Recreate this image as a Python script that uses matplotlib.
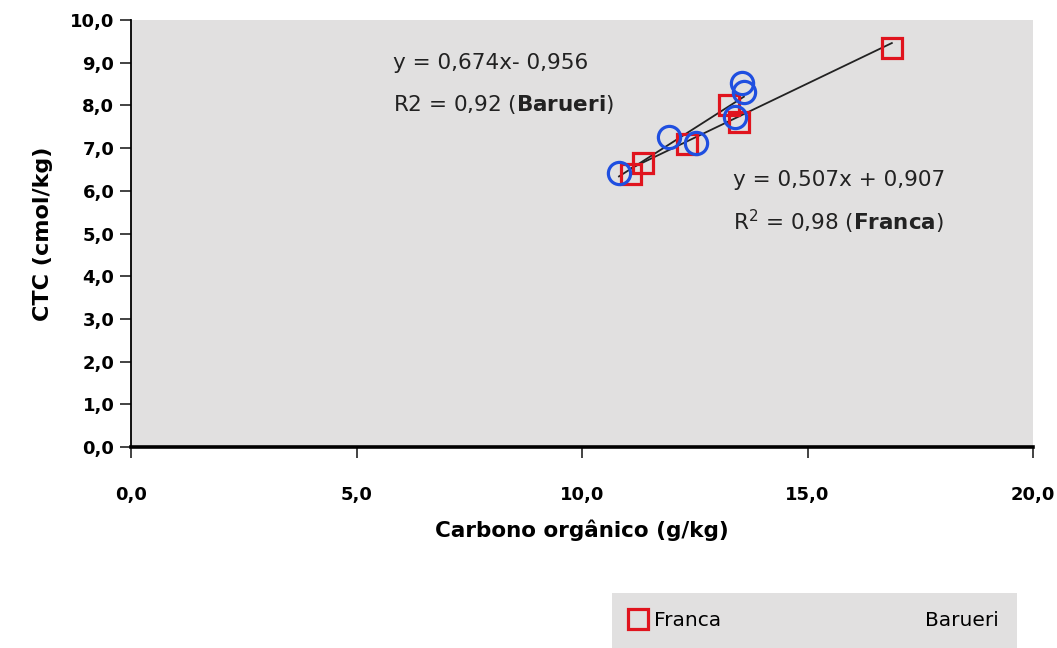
import matplotlib
matplotlib.use("Agg")
import matplotlib.pyplot as plt
import numpy as np
from matplotlib.lines import Line2D
from matplotlib.ticker import FuncFormatter

plt.rcParams['font.family'] = ['DejaVu Sans']
plt.rcParams['mathtext.fontset'] = 'dejavusans'

# Organic carbon (g/kg) vs CEC (cmol/kg) for two soils
franca_x = [16.87, 13.26, 13.48, 12.33, 11.35, 11.09]
franca_y = [9.34, 8.01, 7.61, 7.10, 6.65, 6.39]
barueri_x = [13.55, 13.59, 13.39, 11.93, 12.53, 10.82]
barueri_y = [8.52, 8.31, 7.73, 7.26, 7.12, 6.42]

# Linear trend coefficients (slope, intercept)
franca_fit = (0.507, 0.907)
barueri_fit = (0.674, -0.956)

bg = '#e1e0e0'
red = '#e0141e'
blue = '#1f4fe0'

fig = plt.figure(figsize=(10.57, 6.48), dpi=100)
ax = fig.add_axes([131/1057, 1 - 447/648, (1033-131)/1057, (447-20)/648])
ax.set_facecolor(bg)

# trend lines
for xs, (m, b) in ((franca_x, franca_fit), (barueri_x, barueri_fit)):
    xx = np.array([min(xs), max(xs)])
    ax.plot(xx, m * xx + b, color='#222222', lw=1.3, zorder=2)

ax.plot(franca_x, franca_y, ls='none', marker='s', ms=14, mfc='none',
        mec=red, mew=2.3, zorder=3)
ax.plot(barueri_x, barueri_y, ls='none', marker='o', ms=16, mfc='none',
        mec=blue, mew=2.3, zorder=3)

ax.set_xlim(0, 20)
ax.set_ylim(0, 10)
ax.set_xticks(np.arange(0, 20.1, 5))
ax.set_yticks(np.arange(0, 10.1, 1))
fmt = FuncFormatter(lambda v, p: f"{v:.1f}".replace('.', ','))
ax.xaxis.set_major_formatter(fmt)
ax.yaxis.set_major_formatter(fmt)
for lab in ax.get_xticklabels() + ax.get_yticklabels():
    lab.set_fontweight('bold')
ax.tick_params(axis='both', labelsize=13, direction='out', length=8,
               width=1.2, color='#222222')
ax.tick_params(axis='x', pad=20)
ax.tick_params(axis='y', pad=4)

for s in ('top', 'right'):
    ax.spines[s].set_visible(False)
ax.spines['left'].set_linewidth(1.3)
ax.spines['bottom'].set_linewidth(2.6)

ax.set_xlabel('Carbono orgânico (g/kg)', fontsize=15.5, fontweight='bold', labelpad=11)
ax.set_ylabel('CTC (cmol/kg)', fontsize=16, fontweight='bold', labelpad=12)

# equations
eq_fs = 15.5
ax.text(5.8, 9.0, 'y = 0,674x- 0,956', fontsize=eq_fs, va='center', color='#222222')
ax.text(5.8, 8.02, r'R2 = 0,92 ($\bf{Barueri}$)', fontsize=eq_fs, va='center', color='#222222')
ax.text(13.35, 6.25, 'y = 0,507x + 0,907', fontsize=eq_fs, va='center', color='#222222')
ax.text(13.35, 5.28, r'R$^2$ = 0,98 ($\bf{Franca}$)', fontsize=eq_fs, va='center', color='#222222')

handles = [Line2D([], [], ls='none', marker='s', ms=14, mfc='none', mec=red, mew=2.3),
           Line2D([], [], ls='none', marker='none')]
leg = fig.legend(handles, ['Franca', 'Barueri'], ncol=2,
                 bbox_to_anchor=(612/1057, 0, 405/1057, 56/648),
                 loc='lower left', mode='expand', borderaxespad=0,
                 fontsize=14.5, frameon=True, fancybox=False,
                 handlelength=0.8, handletextpad=0.4, borderpad=0.9)
leg.get_frame().set_facecolor(bg)
leg.get_frame().set_edgecolor('none')
leg.get_frame().set_alpha(1)

fig.savefig('out.png', dpi=100)
